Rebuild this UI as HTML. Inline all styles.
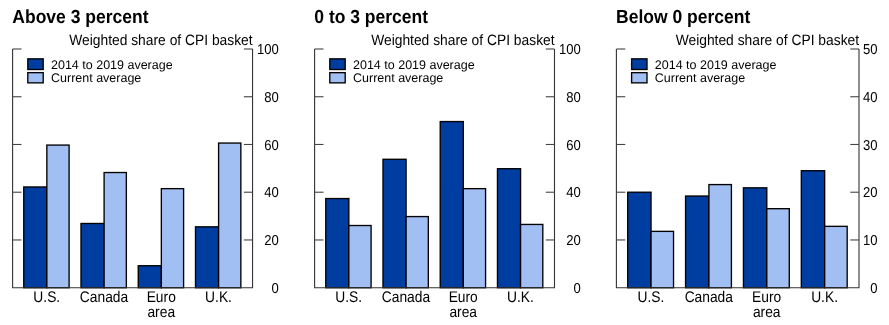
<!DOCTYPE html>
<html><head><meta charset="utf-8"><style>
html,body{margin:0;padding:0;background:#fff;}
svg{display:block;will-change:transform;} text{text-rendering:geometricPrecision;}
</style></head><body>
<svg width="889" height="325" viewBox="0 0 889 325">
<rect width="889" height="325" fill="#fff"/>
<text transform="translate(12.30,23.00) scale(1,1.08)" font-family="Liberation Sans" font-size="17.5" font-weight="bold" text-anchor="start">Above 3 percent</text>
<text transform="translate(252.65,44.90) scale(1,1.08)" font-family="Liberation Sans" font-size="13.83" font-weight="normal" text-anchor="end">Weighted share of CPI basket</text>
<rect x="23.75" y="186.97" width="23.10" height="100.73" fill="#003DA1" stroke="#000" stroke-width="1.35"/>
<rect x="46.85" y="145.08" width="22.25" height="142.62" fill="#A2BFF3" stroke="#000" stroke-width="1.35"/>
<rect x="81.00" y="223.49" width="23.10" height="64.21" fill="#003DA1" stroke="#000" stroke-width="1.35"/>
<rect x="104.10" y="172.53" width="22.25" height="115.17" fill="#A2BFF3" stroke="#000" stroke-width="1.35"/>
<rect x="138.25" y="265.74" width="23.10" height="21.96" fill="#003DA1" stroke="#000" stroke-width="1.35"/>
<rect x="161.35" y="188.64" width="22.25" height="99.06" fill="#A2BFF3" stroke="#000" stroke-width="1.35"/>
<rect x="195.50" y="226.83" width="23.10" height="60.87" fill="#003DA1" stroke="#000" stroke-width="1.35"/>
<rect x="218.60" y="143.05" width="22.25" height="144.65" fill="#A2BFF3" stroke="#000" stroke-width="1.35"/>
<path d="M12.6,49.0 V287.7 H252.55 V49.0" fill="none" stroke="#333" stroke-width="1.1"/>
<path d="M12.6,49.00 H21.5" stroke="#444" stroke-width="1.1"/>
<path d="M243.85000000000002,49.00 H252.55" stroke="#444" stroke-width="1.1"/>
<path d="M12.6,96.74 H21.5" stroke="#444" stroke-width="1.1"/>
<path d="M243.85000000000002,96.74 H252.55" stroke="#444" stroke-width="1.1"/>
<path d="M12.6,144.48 H21.5" stroke="#444" stroke-width="1.1"/>
<path d="M243.85000000000002,144.48 H252.55" stroke="#444" stroke-width="1.1"/>
<path d="M12.6,192.22 H21.5" stroke="#444" stroke-width="1.1"/>
<path d="M243.85000000000002,192.22 H252.55" stroke="#444" stroke-width="1.1"/>
<path d="M12.6,239.96 H21.5" stroke="#444" stroke-width="1.1"/>
<path d="M243.85000000000002,239.96 H252.55" stroke="#444" stroke-width="1.1"/>
<text transform="translate(278.90,54.10) scale(1,1.1)" font-family="Liberation Sans" font-size="13.1" font-weight="normal" text-anchor="end">100</text>
<text transform="translate(278.90,101.84) scale(1,1.1)" font-family="Liberation Sans" font-size="13.1" font-weight="normal" text-anchor="end">80</text>
<text transform="translate(278.90,149.58) scale(1,1.1)" font-family="Liberation Sans" font-size="13.1" font-weight="normal" text-anchor="end">60</text>
<text transform="translate(278.90,197.32) scale(1,1.1)" font-family="Liberation Sans" font-size="13.1" font-weight="normal" text-anchor="end">40</text>
<text transform="translate(278.90,245.06) scale(1,1.1)" font-family="Liberation Sans" font-size="13.1" font-weight="normal" text-anchor="end">20</text>
<text transform="translate(278.90,292.80) scale(1,1.1)" font-family="Liberation Sans" font-size="13.1" font-weight="normal" text-anchor="end">0</text>
<rect x="27.80" y="58.85" width="15.4" height="10.65" fill="#003DA1" stroke="#000" stroke-width="1.35"/>
<rect x="27.80" y="72.65" width="15.4" height="10.2" fill="#A2BFF3" stroke="#000" stroke-width="1.35"/>
<text transform="translate(51.00,68.90) scale(1,1.0)" font-family="Liberation Sans" font-size="12.5" font-weight="normal" text-anchor="start">2014 to 2019 average</text>
<text transform="translate(51.00,82.30) scale(1,1.0)" font-family="Liberation Sans" font-size="12.5" font-weight="normal" text-anchor="start">Current average</text>
<text transform="translate(46.75,301.80) scale(1,1.12)" font-family="Liberation Sans" font-size="13.8" font-weight="normal" text-anchor="middle">U.S.</text>
<text transform="translate(104.00,301.80) scale(1,1.12)" font-family="Liberation Sans" font-size="13.8" font-weight="normal" text-anchor="middle">Canada</text>
<text transform="translate(161.25,301.80) scale(1,1.12)" font-family="Liberation Sans" font-size="13.8" font-weight="normal" text-anchor="middle">Euro</text>
<text transform="translate(161.25,316.90) scale(1,1.12)" font-family="Liberation Sans" font-size="13.8" font-weight="normal" text-anchor="middle">area</text>
<text transform="translate(218.50,301.80) scale(1,1.12)" font-family="Liberation Sans" font-size="13.8" font-weight="normal" text-anchor="middle">U.K.</text>
<text transform="translate(314.30,23.00) scale(1,1.08)" font-family="Liberation Sans" font-size="17.5" font-weight="bold" text-anchor="start">0 to 3 percent</text>
<text transform="translate(554.60,44.90) scale(1,1.08)" font-family="Liberation Sans" font-size="13.83" font-weight="normal" text-anchor="end">Weighted share of CPI basket</text>
<rect x="325.75" y="198.55" width="23.10" height="89.15" fill="#003DA1" stroke="#000" stroke-width="1.35"/>
<rect x="348.84" y="225.52" width="22.25" height="62.18" fill="#A2BFF3" stroke="#000" stroke-width="1.35"/>
<rect x="382.99" y="159.28" width="23.10" height="128.42" fill="#003DA1" stroke="#000" stroke-width="1.35"/>
<rect x="406.08" y="216.57" width="22.25" height="71.13" fill="#A2BFF3" stroke="#000" stroke-width="1.35"/>
<rect x="440.22" y="121.56" width="23.10" height="166.14" fill="#003DA1" stroke="#000" stroke-width="1.35"/>
<rect x="463.32" y="188.64" width="22.25" height="99.06" fill="#A2BFF3" stroke="#000" stroke-width="1.35"/>
<rect x="497.46" y="168.71" width="23.10" height="118.99" fill="#003DA1" stroke="#000" stroke-width="1.35"/>
<rect x="520.56" y="224.44" width="22.25" height="63.26" fill="#A2BFF3" stroke="#000" stroke-width="1.35"/>
<path d="M314.6,49.0 V287.7 H554.5 V49.0" fill="none" stroke="#333" stroke-width="1.1"/>
<path d="M314.6,49.00 H323.5" stroke="#444" stroke-width="1.1"/>
<path d="M545.8,49.00 H554.5" stroke="#444" stroke-width="1.1"/>
<path d="M314.6,96.74 H323.5" stroke="#444" stroke-width="1.1"/>
<path d="M545.8,96.74 H554.5" stroke="#444" stroke-width="1.1"/>
<path d="M314.6,144.48 H323.5" stroke="#444" stroke-width="1.1"/>
<path d="M545.8,144.48 H554.5" stroke="#444" stroke-width="1.1"/>
<path d="M314.6,192.22 H323.5" stroke="#444" stroke-width="1.1"/>
<path d="M545.8,192.22 H554.5" stroke="#444" stroke-width="1.1"/>
<path d="M314.6,239.96 H323.5" stroke="#444" stroke-width="1.1"/>
<path d="M545.8,239.96 H554.5" stroke="#444" stroke-width="1.1"/>
<text transform="translate(580.80,54.10) scale(1,1.1)" font-family="Liberation Sans" font-size="13.1" font-weight="normal" text-anchor="end">100</text>
<text transform="translate(580.80,101.84) scale(1,1.1)" font-family="Liberation Sans" font-size="13.1" font-weight="normal" text-anchor="end">80</text>
<text transform="translate(580.80,149.58) scale(1,1.1)" font-family="Liberation Sans" font-size="13.1" font-weight="normal" text-anchor="end">60</text>
<text transform="translate(580.80,197.32) scale(1,1.1)" font-family="Liberation Sans" font-size="13.1" font-weight="normal" text-anchor="end">40</text>
<text transform="translate(580.80,245.06) scale(1,1.1)" font-family="Liberation Sans" font-size="13.1" font-weight="normal" text-anchor="end">20</text>
<text transform="translate(580.80,292.80) scale(1,1.1)" font-family="Liberation Sans" font-size="13.1" font-weight="normal" text-anchor="end">0</text>
<rect x="329.80" y="58.85" width="15.4" height="10.65" fill="#003DA1" stroke="#000" stroke-width="1.35"/>
<rect x="329.80" y="72.65" width="15.4" height="10.2" fill="#A2BFF3" stroke="#000" stroke-width="1.35"/>
<text transform="translate(353.00,68.90) scale(1,1.0)" font-family="Liberation Sans" font-size="12.5" font-weight="normal" text-anchor="start">2014 to 2019 average</text>
<text transform="translate(353.00,82.30) scale(1,1.0)" font-family="Liberation Sans" font-size="12.5" font-weight="normal" text-anchor="start">Current average</text>
<text transform="translate(348.74,301.80) scale(1,1.12)" font-family="Liberation Sans" font-size="13.8" font-weight="normal" text-anchor="middle">U.S.</text>
<text transform="translate(405.98,301.80) scale(1,1.12)" font-family="Liberation Sans" font-size="13.8" font-weight="normal" text-anchor="middle">Canada</text>
<text transform="translate(463.22,301.80) scale(1,1.12)" font-family="Liberation Sans" font-size="13.8" font-weight="normal" text-anchor="middle">Euro</text>
<text transform="translate(463.22,316.90) scale(1,1.12)" font-family="Liberation Sans" font-size="13.8" font-weight="normal" text-anchor="middle">area</text>
<text transform="translate(520.46,301.80) scale(1,1.12)" font-family="Liberation Sans" font-size="13.8" font-weight="normal" text-anchor="middle">U.K.</text>
<text transform="translate(616.10,23.00) scale(1,1.08)" font-family="Liberation Sans" font-size="17.5" font-weight="bold" text-anchor="start">Below 0 percent</text>
<text transform="translate(859.10,44.90) scale(1,1.08)" font-family="Liberation Sans" font-size="13.83" font-weight="normal" text-anchor="end">Weighted share of CPI basket</text>
<rect x="627.67" y="192.22" width="23.36" height="95.48" fill="#003DA1" stroke="#000" stroke-width="1.35"/>
<rect x="651.03" y="231.37" width="22.50" height="56.33" fill="#A2BFF3" stroke="#000" stroke-width="1.35"/>
<rect x="685.56" y="196.04" width="23.36" height="91.66" fill="#003DA1" stroke="#000" stroke-width="1.35"/>
<rect x="708.91" y="184.58" width="22.50" height="103.12" fill="#A2BFF3" stroke="#000" stroke-width="1.35"/>
<rect x="743.44" y="187.83" width="23.36" height="99.87" fill="#003DA1" stroke="#000" stroke-width="1.35"/>
<rect x="766.79" y="208.69" width="22.50" height="79.01" fill="#A2BFF3" stroke="#000" stroke-width="1.35"/>
<rect x="801.32" y="170.74" width="23.36" height="116.96" fill="#003DA1" stroke="#000" stroke-width="1.35"/>
<rect x="824.68" y="226.35" width="22.50" height="61.35" fill="#A2BFF3" stroke="#000" stroke-width="1.35"/>
<path d="M616.4,49.0 V287.7 H859.0 V49.0" fill="none" stroke="#333" stroke-width="1.1"/>
<path d="M616.4,49.00 H625.3" stroke="#444" stroke-width="1.1"/>
<path d="M850.3,49.00 H859.0" stroke="#444" stroke-width="1.1"/>
<path d="M616.4,96.74 H625.3" stroke="#444" stroke-width="1.1"/>
<path d="M850.3,96.74 H859.0" stroke="#444" stroke-width="1.1"/>
<path d="M616.4,144.48 H625.3" stroke="#444" stroke-width="1.1"/>
<path d="M850.3,144.48 H859.0" stroke="#444" stroke-width="1.1"/>
<path d="M616.4,192.22 H625.3" stroke="#444" stroke-width="1.1"/>
<path d="M850.3,192.22 H859.0" stroke="#444" stroke-width="1.1"/>
<path d="M616.4,239.96 H625.3" stroke="#444" stroke-width="1.1"/>
<path d="M850.3,239.96 H859.0" stroke="#444" stroke-width="1.1"/>
<text transform="translate(877.60,54.10) scale(1,1.1)" font-family="Liberation Sans" font-size="13.1" font-weight="normal" text-anchor="end">50</text>
<text transform="translate(877.60,101.84) scale(1,1.1)" font-family="Liberation Sans" font-size="13.1" font-weight="normal" text-anchor="end">40</text>
<text transform="translate(877.60,149.58) scale(1,1.1)" font-family="Liberation Sans" font-size="13.1" font-weight="normal" text-anchor="end">30</text>
<text transform="translate(877.60,197.32) scale(1,1.1)" font-family="Liberation Sans" font-size="13.1" font-weight="normal" text-anchor="end">20</text>
<text transform="translate(877.60,245.06) scale(1,1.1)" font-family="Liberation Sans" font-size="13.1" font-weight="normal" text-anchor="end">10</text>
<text transform="translate(877.60,292.80) scale(1,1.1)" font-family="Liberation Sans" font-size="13.1" font-weight="normal" text-anchor="end">0</text>
<rect x="631.60" y="58.85" width="15.4" height="10.65" fill="#003DA1" stroke="#000" stroke-width="1.35"/>
<rect x="631.60" y="72.65" width="15.4" height="10.2" fill="#A2BFF3" stroke="#000" stroke-width="1.35"/>
<text transform="translate(654.80,68.90) scale(1,1.0)" font-family="Liberation Sans" font-size="12.5" font-weight="normal" text-anchor="start">2014 to 2019 average</text>
<text transform="translate(654.80,82.30) scale(1,1.0)" font-family="Liberation Sans" font-size="12.5" font-weight="normal" text-anchor="start">Current average</text>
<text transform="translate(650.93,301.80) scale(1,1.12)" font-family="Liberation Sans" font-size="13.8" font-weight="normal" text-anchor="middle">U.S.</text>
<text transform="translate(708.81,301.80) scale(1,1.12)" font-family="Liberation Sans" font-size="13.8" font-weight="normal" text-anchor="middle">Canada</text>
<text transform="translate(766.69,301.80) scale(1,1.12)" font-family="Liberation Sans" font-size="13.8" font-weight="normal" text-anchor="middle">Euro</text>
<text transform="translate(766.69,316.90) scale(1,1.12)" font-family="Liberation Sans" font-size="13.8" font-weight="normal" text-anchor="middle">area</text>
<text transform="translate(824.57,301.80) scale(1,1.12)" font-family="Liberation Sans" font-size="13.8" font-weight="normal" text-anchor="middle">U.K.</text>
</svg>
</body></html>
